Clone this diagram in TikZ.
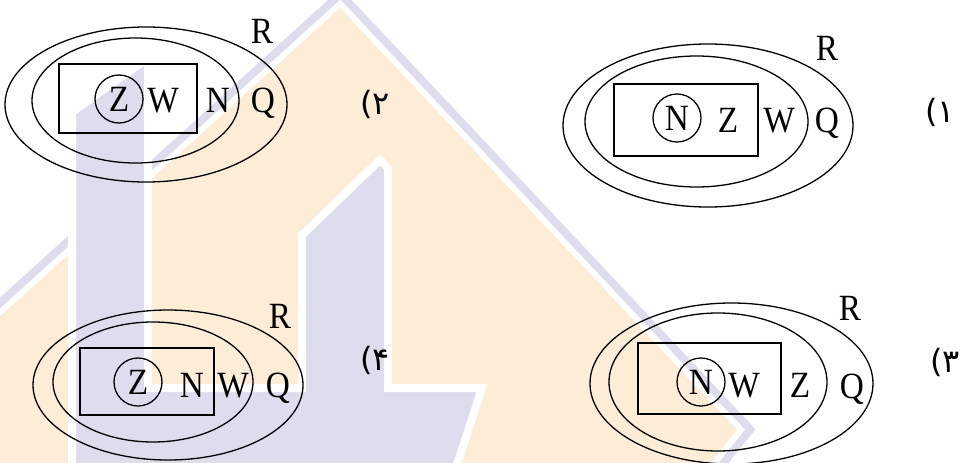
\documentclass[tikz,border=0pt]{standalone}
\usepackage{fontspec}
\setmainfont{Liberation Serif}
\newfontfamily\setfont[FakeStretch=0.9]{Liberation Serif}
\newfontfamily\arabicfont[Script=Arabic]{DejaVu Sans}
\usetikzlibrary{shapes.geometric,positioning}
\definecolor{wmorange}{RGB}{253,236,214}
\definecolor{wmlavender}{RGB}{221,221,238}

\begin{document}
\begin{tikzpicture}[x=1pt,y=-1pt,
  setring/.style={draw,ellipse,line width=1.3pt,inner sep=0pt},
  setbox/.style={draw,rectangle,line width=1.3pt,inner sep=0pt},
  setletter/.style={inner sep=0pt,font=\setfont\fontsize{37}{40}\selectfont,
    text height=24.5pt,text depth=0pt},
  setcirc/.style={setletter,draw,circle,line width=1.3pt,minimum size=48pt},
  optlabel/.style={inner sep=0pt,font=\arabicfont\fontsize{32}{34}\selectfont}
]
  \useasboundingbox (0,0) rectangle (961,463);
  % Watermark in the background
  \begin{scope}
    \clip (0,0) rectangle (961,463);
    \draw[wmlavender,line width=28pt,line join=miter]
      (340,8) -- (737,430) -- (697,480) -- (-180,480) -- cycle;
    \draw[white,line width=12pt,line join=miter]
      (340,8) -- (737,430) -- (697,480) -- (-180,480) -- cycle;
    \fill[wmorange] (340,8) -- (737,430) -- (697,480) -- (-180,480) -- cycle;
    \filldraw[fill=wmlavender,draw=white,line width=8pt,line join=miter]
      (72,112) -- (148,58) -- (148,388) -- (302,388) -- (302,235)
      -- (380,160) -- (388,168) -- (388,388) -- (482,388) -- (452,480)
      -- (72,480) -- cycle;
  \end{scope}
  % Option 2
  \node[setring,minimum width=282pt,minimum height=155pt] (outer2) at (146,104.5) {};
  \node[setring,minimum width=207pt,minimum height=125pt] (inner2) at (135.5,100.5) {};
  \node[setbox,minimum width=138pt,minimum height=69pt] (box2) at (128,98.5) {};
  \node[setcirc] (circ2) at (119,99) {Z};
  \node[setletter] (w2) at (163,100) {W};
  \node[setletter] (n2) at (218,100) {N};
  \node[setletter] (q2) at (263,100) {Q};
  \node[setletter] (r2) at (262,31) {R};
  \node[optlabel] (opt2) at (375,104) {۲)};
  % Option 1
  \node[setring,minimum width=290pt,minimum height=163pt] (outer1) at (708,125.5) {};
  \node[setring,minimum width=223pt,minimum height=131pt] (inner1) at (696.5,121.5) {};
  \node[setbox,minimum width=144pt,minimum height=72pt] (box1) at (686,120) {};
  \node[setcirc] (circ1) at (677,118) {N};
  \node[setletter] (z1) at (728,120) {Z};
  \node[setletter] (w1) at (779,120) {W};
  \node[setletter] (q1) at (827,120) {Q};
  \node[setletter] (r1) at (827,48) {R};
  \node[optlabel] (opt1) at (940,112) {۱)};
  % Option 4
  \node[setring,minimum width=270pt,minimum height=150pt] (outer4) at (168,385) {};
  \node[setring,minimum width=200pt,minimum height=120pt] (inner4) at (153,382) {};
  \node[setbox,minimum width=134pt,minimum height=67pt] (box4) at (147,381.5) {};
  \node[setcirc] (circ4) at (138,382) {Z};
  \node[setletter] (n4) at (192,385) {N};
  \node[setletter] (w4) at (233,385) {W};
  \node[setletter] (q4) at (278,385) {Q};
  \node[setletter] (r4) at (280,316) {R};
  \node[optlabel] (opt4) at (375,360) {۴)};
  % Option 3
  \node[setring,minimum width=283pt,minimum height=161pt] (outer3) at (731.5,383.5) {};
  \node[setring,minimum width=218pt,minimum height=138pt] (inner3) at (718,382) {};
  \node[setbox,minimum width=143pt,minimum height=71pt] (box3) at (709.5,378.5) {};
  \node[setcirc] (circ3) at (701,382) {N};
  \node[setletter] (w3) at (744,385) {W};
  \node[setletter] (z3) at (800,385) {Z};
  \node[setletter] (q3) at (852,386) {Q};
  \node[setletter] (r3) at (850,308) {R};
  \node[optlabel] (opt3) at (945,362) {۳)};
\end{tikzpicture}
\end{document}
